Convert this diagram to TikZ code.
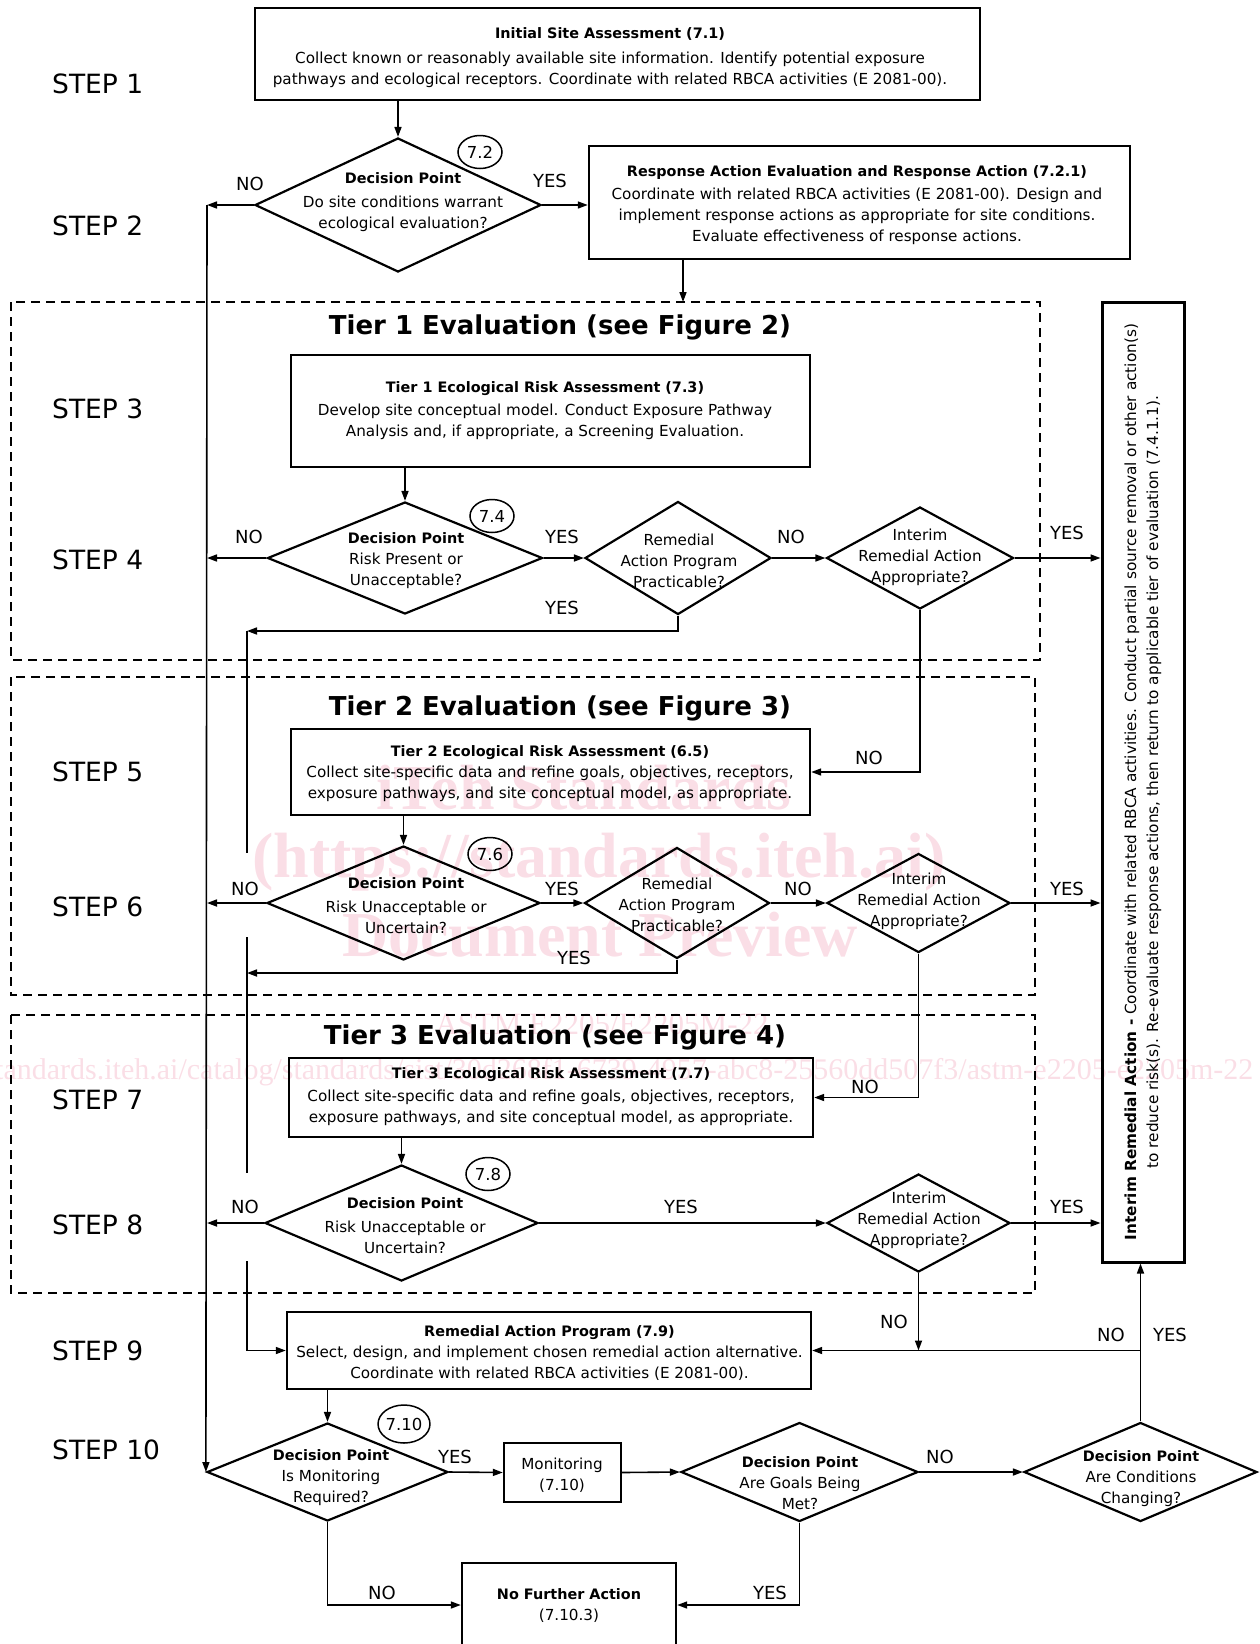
\documentclass[tikz,border=0pt]{standalone}
\usepackage{fontspec}
\setmainfont{DejaVu Sans}
\newfontfamily\wmfont{Liberation Serif}
\usetikzlibrary{shapes.geometric,arrows.meta}
\newcommand\boxtitle[1]{{\fontsize{14.4}{21}\selectfont\bfseries #1}}
\begin{document}
\begin{tikzpicture}[x=1pt,y=-1pt,
  boxn/.style={draw,line width=2.4pt,inner sep=0pt},
  dia/.style={draw,diamond,line width=2.2pt,inner sep=0pt},
  txt/.style={align=center,inner sep=0pt,font=\fontsize{15.2}{21}\selectfont},
  steplbl/.style={anchor=west,inner sep=0pt,font=\fontsize{26.5}{30}\selectfont},
  yn/.style={inner sep=0pt,font=\fontsize{18}{20}\selectfont},
  tierh/.style={inner sep=0pt,font=\fontsize{26}{30}\selectfont\bfseries},
  num/.style={draw,ellipse,line width=1.5pt,inner sep=0pt,minimum width=44pt,minimum height=33pt,font=\fontsize{16.5}{18}\selectfont},
  conn/.style={line width=1.6pt},
  arr/.style={conn,-{Triangle[length=10pt,width=7pt]}},
  tierframe/.style={draw,line width=1.8pt,dash pattern=on 9pt off 6pt},
  wm/.style={text={rgb,255:red,250;green,222;blue,230},inner sep=0pt}
]
\useasboundingbox (0,0) rectangle (1259,1644);
% watermark
\begin{scope}
\clip (0,0) rectangle (1259,1644);
\node[wm,font=\wmfont\bfseries\fontsize{64}{70}\selectfont] (w1) at (584,788) {iTeh Standards};
\node[wm,font=\wmfont\bfseries\fontsize{64}{70}\selectfont] (w2) at (599,862) {(https://standards.iteh.ai)};
\node[wm,font=\wmfont\bfseries\fontsize{64}{70}\selectfont] (w3) at (600,935) {Document Preview};
\node[wm,font=\wmfont\fontsize{31}{34}\selectfont] (w4) at (602,1024) {ASTM E2205/E2205M-22};
\node[wm,anchor=west,font=\wmfont\fontsize{30}{32}\selectfont] (w5) at (-100,1072) {https://standards.iteh.ai/catalog/standards/sist/30d268f1-6739-4957-abc8-25560dd507f3/astm-e2205-e2205m-22};
\end{scope}

% tier frames
\draw[tierframe] (11,302) rectangle (1040,660);
\draw[tierframe] (11,677) rectangle (1035,995);
\draw[tierframe] (11,1015) rectangle (1035,1293);
\node[tierh] (h1) at (560,327) {Tier 1 Evaluation (see Figure 2)};
\node[tierh] (h2) at (560,708) {Tier 2 Evaluation (see Figure 3)};
\node[tierh] (h3) at (555,1037) {Tier 3 Evaluation (see Figure 4)};

% step labels
\node[steplbl] (s1) at (52,84) {STEP 1};
\node[steplbl] (s2) at (52,226) {STEP 2};
\node[steplbl] (s3) at (52,409) {STEP 3};
\node[steplbl] (s4) at (52,560) {STEP 4};
\node[steplbl] (s5) at (52,772) {STEP 5};
\node[steplbl] (s6) at (52,907) {STEP 6};
\node[steplbl] (s7) at (52,1100) {STEP 7};
\node[steplbl] (s8) at (52,1225) {STEP 8};
\node[steplbl] (s9) at (52,1351) {STEP 9};
\node[steplbl] (s10) at (52,1450) {STEP 10};

% boxes
\node[boxn,minimum width=725pt,minimum height=92pt] (b1) at (617.5,54) {};
\node[txt] (tb1) at (610,58) {\boxtitle{Initial Site Assessment (7.1)}\\[4pt]Collect known or reasonably available site information. Identify potential exposure\\pathways and ecological receptors. Coordinate with related RBCA activities (E 2081-00).};
\node[boxn,minimum width=541pt,minimum height=113pt] (b2) at (859.5,202.5) {};
\node[txt] (tb2) at (857,205) {\boxtitle{Response Action Evaluation and Response Action (7.2.1)}\\[2pt]Coordinate with related RBCA activities (E 2081-00). Design and\\implement response actions as appropriate for site conditions.\\Evaluate effectiveness of response actions.};
\node[boxn,minimum width=519pt,minimum height=112pt] (bt1) at (550.5,411) {};
\node[txt] (tt1) at (545,410.5) {\boxtitle{Tier 1 Ecological Risk Assessment (7.3)}\\[2pt]Develop site conceptual model. Conduct Exposure Pathway\\Analysis and, if appropriate, a Screening Evaluation.};
\node[boxn,minimum width=519pt,minimum height=86pt] (bt2) at (550.5,772) {};
\node[txt] (tt2) at (550,774) {\boxtitle{Tier 2 Ecological Risk Assessment (6.5)}\\Collect site-specific data and refine goals, objectives, receptors,\\exposure pathways, and site conceptual model, as appropriate.};
\node[boxn,minimum width=524pt,minimum height=79pt] (bt3) at (551,1097.5) {};
\node[txt] (tt3) at (551,1097) {\boxtitle{Tier 3 Ecological Risk Assessment (7.7)}\\[2pt]Collect site-specific data and refine goals, objectives, receptors,\\exposure pathways, and site conceptual model, as appropriate.};
\node[boxn,minimum width=524pt,minimum height=77pt] (brap) at (549,1350.5) {};
\node[txt] (trap) at (549.5,1353) {\boxtitle{Remedial Action Program (7.9)}\\Select, design, and implement chosen remedial action alternative.\\Coordinate with related RBCA activities (E 2081-00).};
\node[boxn,minimum width=117pt,minimum height=59pt] (bmon) at (562.5,1472.5) {};
\node[txt] (tmon) at (562,1475) {Monitoring\\(7.10)};
\node[boxn,minimum width=214pt,minimum height=84pt] (bnfa) at (569,1605) {};
\node[txt] (tnfa) at (569,1606) {\boxtitle{No Further Action}\\(7.10.3)};
\node[boxn,line width=3pt,minimum width=82pt,minimum height=960pt] (bira) at (1143,782) {};
\node[txt,rotate=90,font=\fontsize{15.3}{22}\selectfont] (tira) at (1143,782) {\textbf{Interim Remedial Action -} Coordinate with related RBCA activities. Conduct partial source removal or other action(s)\\to reduce risk(s). Re-evaluate response actions, then return to applicable tier of evaluation (7.4.1.1).};

% diamonds
\node[dia,minimum width=286pt,minimum height=134pt] (d1) at (398,205) {};
\node[txt] (td1) at (403,202.5) {\boxtitle{Decision Point}\\[3pt]Do site conditions warrant\\ecological evaluation?};
\node[dia,minimum width=275pt,minimum height=112pt] (d2) at (405,558) {};
\node[txt] (td2) at (406,561) {\boxtitle{Decision Point}\\Risk Present or\\Unacceptable?};
\node[dia,minimum width=186pt,minimum height=113pt] (d3) at (678,558) {};
\node[txt] (td3) at (679,561) {Remedial\\Action Program\\Practicable?};
\node[dia,minimum width=187pt,minimum height=102pt] (d4) at (920,558) {};
\node[txt] (td4) at (920,557) {Interim\\Remedial Action\\Appropriate?};
\node[dia,minimum width=273pt,minimum height=114pt] (d6) at (403.5,903) {};
\node[txt] (td6) at (406,906) {\boxtitle{Decision Point}\\[3pt]Risk Unacceptable or\\Uncertain?};
\node[dia,minimum width=185pt,minimum height=111pt] (d7) at (677,903) {};
\node[txt] (td7) at (677,904.5) {Remedial\\Action Program\\Practicable?};
\node[dia,minimum width=183pt,minimum height=99pt] (d8) at (918.5,903) {};
\node[txt] (td8) at (919,901) {Interim\\Remedial Action\\Appropriate?};
\node[dia,minimum width=273pt,minimum height=116pt] (d9) at (401.5,1223) {};
\node[txt] (td9) at (405,1226) {\boxtitle{Decision Point}\\[3pt]Risk Unacceptable or\\Uncertain?};
\node[dia,minimum width=183pt,minimum height=98pt] (d10) at (918.5,1223) {};
\node[txt] (td10) at (919,1220.5) {Interim\\Remedial Action\\Appropriate?};
\node[dia,minimum width=241pt,minimum height=98pt] (d11) at (327.5,1472) {};
\node[txt] (td11) at (331,1478) {\boxtitle{Decision Point}\\Is Monitoring\\Required?};
\node[dia,minimum width=237pt,minimum height=99pt] (d12) at (799.5,1472) {};
\node[txt] (td12) at (800,1483.5) {\boxtitle{Decision Point}\\Are Goals Being\\Met?};
\node[dia,minimum width=233pt,minimum height=99pt] (d13) at (1140.5,1472) {};
\node[txt] (td13) at (1141,1478.5) {\boxtitle{Decision Point}\\Are Conditions\\Changing?};

% section numbers
\node[num] (c72) at (480,152) {7.2};
\node[num] (c74) at (492,516) {7.4};
\node[num] (c76) at (490,854) {7.6};
\node[num] (c78) at (488,1174) {7.8};
\node[num,minimum width=49pt,minimum height=38pt] (c710) at (404,1424) {7.10};

% coordinates
\coordinate (j1) at (207,205);
\coordinate (t1top) at (683,302);
\coordinate (l2a) at (247,631);
\coordinate (l2b) at (247,853);
\coordinate (l2c) at (247,937);
\coordinate (l2g) at (247,973);
\coordinate (l2d) at (247,1173);
\coordinate (l2e) at (247,1261);
\coordinate (jn) at (d13.north |- brap.east);

% connectors
\draw[arr] (b1.south -| d1.north) -- (d1.north);
\draw[arr] (d1.west) -- (j1);
\draw[arr] (j1) -- (d11.west);
\draw[arr] (d1.east) -- (d1.east -| b2.west);
\draw[arr] (b2.south -| t1top) -- (t1top);
\draw[arr] (bt1.south -| d2.north) -- (d2.north);
\draw[arr] (d2.west) -- (d2.west -| j1);
\draw[arr] (d2.east) -- (d3.west);
\draw[arr] (d3.east) -- (d4.west);
\draw[arr] (d4.east) -- (d4.east -| bira.west);
\draw[arr] (d3.south) |- (l2a);
\draw[conn] (l2a) -- (l2b);
\draw[arr] (d4.south) |- (bt2.east);
\draw[arr] (bt2.south -| d6.north) -- (d6.north);
\draw[arr] (d6.west) -- (d6.west -| j1);
\draw[arr] (d6.east) -- (d7.west);
\draw[arr] (d7.east) -- (d8.west);
\draw[arr] (d8.east) -- (d8.east -| bira.west);
\draw[arr] (d7.south) |- (l2g);
\draw[conn] (l2c) -- (l2d);
\draw[arr] (d8.south) |- (bt3.east);
\draw[arr] (bt3.south -| d9.north) -- (d9.north);
\draw[arr] (d9.west) -- (d9.west -| j1);
\draw[arr] (d9.east) -- (d10.west);
\draw[arr] (d10.east) -- (d10.east -| bira.west);
\draw[arr] (l2e) |- (brap.west);
\draw[arr] (d10.south) -- (d10.south |- jn);
\draw[arr] (d13.north) -- (d13.north |- bira.south);
\draw[arr] (jn) -- (brap.east);
\draw[arr] (brap.south -| d11.north) -- (d11.north);
\draw[arr] (d11.east) -- (bmon.west);
\draw[arr] (bmon.east) -- (d12.west);
\draw[arr] (d12.east) -- (d13.west);
\draw[arr] (d11.south) |- (bnfa.west);
\draw[arr] (d12.south) |- (bnfa.east);

% yes / no labels
\node[yn] (n1) at (250,184) {NO};
\node[yn] (y1) at (550,181) {YES};
\node[yn] (n2) at (249,537) {NO};
\node[yn] (y2) at (562,537) {YES};
\node[yn] (n3) at (791,537) {NO};
\node[yn] (y4) at (1067,533) {YES};
\node[yn] (y3) at (562,608) {YES};
\node[yn] (n4) at (869,758) {NO};
\node[yn] (n6) at (245,889) {NO};
\node[yn] (y6) at (562,889) {YES};
\node[yn] (n7) at (798,889) {NO};
\node[yn] (y8) at (1067,889) {YES};
\node[yn] (y7) at (574,958) {YES};
\node[yn] (n8) at (865,1087) {NO};
\node[yn] (n9) at (245,1207) {NO};
\node[yn] (y9) at (681,1207) {YES};
\node[yn] (y10) at (1067,1207) {YES};
\node[yn] (n10) at (894,1322) {NO};
\node[yn] (n13) at (1111,1335) {NO};
\node[yn] (y13) at (1170,1335) {YES};
\node[yn] (y11) at (455,1457) {YES};
\node[yn] (n12) at (940,1457) {NO};
\node[yn] (n11) at (382,1593) {NO};
\node[yn] (y12) at (770,1593) {YES};
\end{tikzpicture}
\end{document}
